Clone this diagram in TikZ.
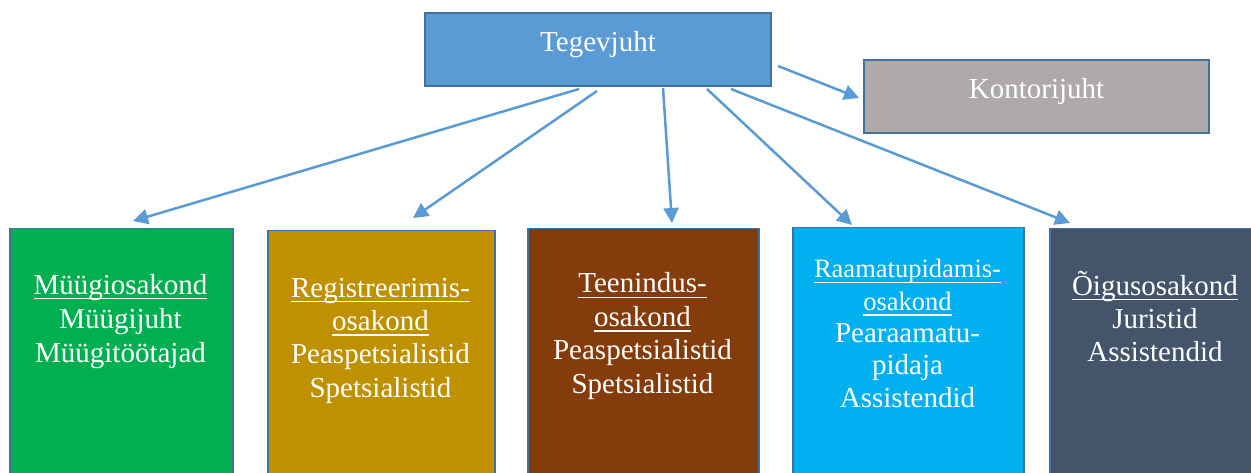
\documentclass[tikz,border=0pt]{standalone}
\usepackage{fontspec}
\setmainfont{Liberation Serif}
\usetikzlibrary{arrows.meta,calc}
\definecolor{topblue}{HTML}{5B9BD5}
\definecolor{edgeblue}{HTML}{41719C}
\definecolor{kgray}{HTML}{AEAAAA}
\definecolor{mgreen}{HTML}{00B050}
\definecolor{mgold}{HTML}{BF9000}
\definecolor{mbrown}{HTML}{843C0C}
\definecolor{mcyan}{HTML}{00B0F0}
\definecolor{mdark}{HTML}{44546A}
\newcommand\ulx[1]{\setbox0\hbox{#1}\rlap{\rule[-5.5pt]{\wd0}{1.8pt}}\box0}
\newcommand\smallhd{\fontsize{26.5}{31}\selectfont}
\tikzset{
  topbox/.style={draw=edgeblue, line width=2pt, text=white, inner sep=0pt,
    font=\fontsize{29}{34}\selectfont, text height=12pt, text depth=7pt},
  deptbox/.style={draw=edgeblue, line width=1.5pt, inner sep=0pt, anchor=north west,
    minimum height=260pt},
  depttext/.style={text=white, inner sep=0pt, anchor=base},
  arr/.style={draw=topblue, line width=2.5pt, -{Triangle[length=15pt,width=15pt]}},
}
\begin{document}
\begin{tikzpicture}[x=1pt,y=1pt]
\clip (0,0) rectangle (1251,472);
\fill[white] (0,0) rectangle (1251,472);
% top boxes
\node[topbox, fill=topblue, minimum width=346pt, minimum height=73pt] (T) at (598,422.5) {Tegevjuht};
\node[topbox, fill=kgray, minimum width=345pt, minimum height=73pt] (K) at (1036.5,375.5) {Kontorijuht};
% department boxes
\node[deptbox, fill=mgreen, minimum width=223pt] (D1) at (9,244) {};
\node[deptbox, fill=mgold, minimum width=227pt] (D2) at (267,242) {};
\node[deptbox, fill=mbrown, minimum width=231pt] (D3) at (527,244) {};
\node[deptbox, fill=mcyan, minimum width=231pt] (D4) at (792,245) {};
\node[deptbox, fill=mdark, minimum width=212pt] (D5) at (1049,244) {};
% department texts
\node[depttext] (L1) at (120.5,178) {\fontsize{29}{34}\selectfont\begin{tabular}[t]{@{}c@{}}\ulx{Müügiosakond}\\Müügijuht\\Müügitöötajad\end{tabular}};
\node[depttext] (L2) at (380.5,175) {\fontsize{29}{33.5}\selectfont\begin{tabular}[t]{@{}c@{}}\ulx{Registreerimis-}\\\ulx{osakond}\\Peaspetsialistid\\Spetsialistid\end{tabular}};
\node[depttext] (L3) at (642.5,179) {\fontsize{29}{33.5}\selectfont\begin{tabular}[t]{@{}c@{}}\ulx{Teenindus-}\\\ulx{osakond}\\Peaspetsialistid\\Spetsialistid\end{tabular}};
\node[depttext] (L4) at (907.5,194) {\fontsize{29}{32.3}\selectfont\begin{tabular}[t]{@{}c@{}}{\smallhd\ulx{Raamatupidamis-}}\\{\smallhd\ulx{osakond}}\\Pearaamatu-\\pidaja\\Assistendid\end{tabular}};
\node[depttext] (L5) at (1155,177) {\fontsize{29}{33.5}\selectfont\begin{tabular}[t]{@{}c@{}}\ulx{Õigusosakond}\\Juristid\\Assistendid\end{tabular}};
% connectors
\draw[arr] ([shift={(155,-2)}]T.south west) -- ([shift={(124,7)}]D1.north west);
\draw[arr] ([shift={(173,-4)}]T.south west) -- ([shift={(146,12)}]D2.north west);
\draw[arr] ([shift={(239,-1)}]T.south west) -- ([shift={(145,5)}]D3.north west);
\draw[arr] ([shift={(283,-2)}]T.south west) -- ([shift={(60,2)}]D4.north west);
\draw[arr] ([shift={(307,-2)}]T.south west) -- ([shift={(21,5)}]D5.north west);
\draw[arr] ([shift={(6,-16.5)}]T.east) -- ([shift={(-4,-1.5)}]K.west);
\end{tikzpicture}
\end{document}
